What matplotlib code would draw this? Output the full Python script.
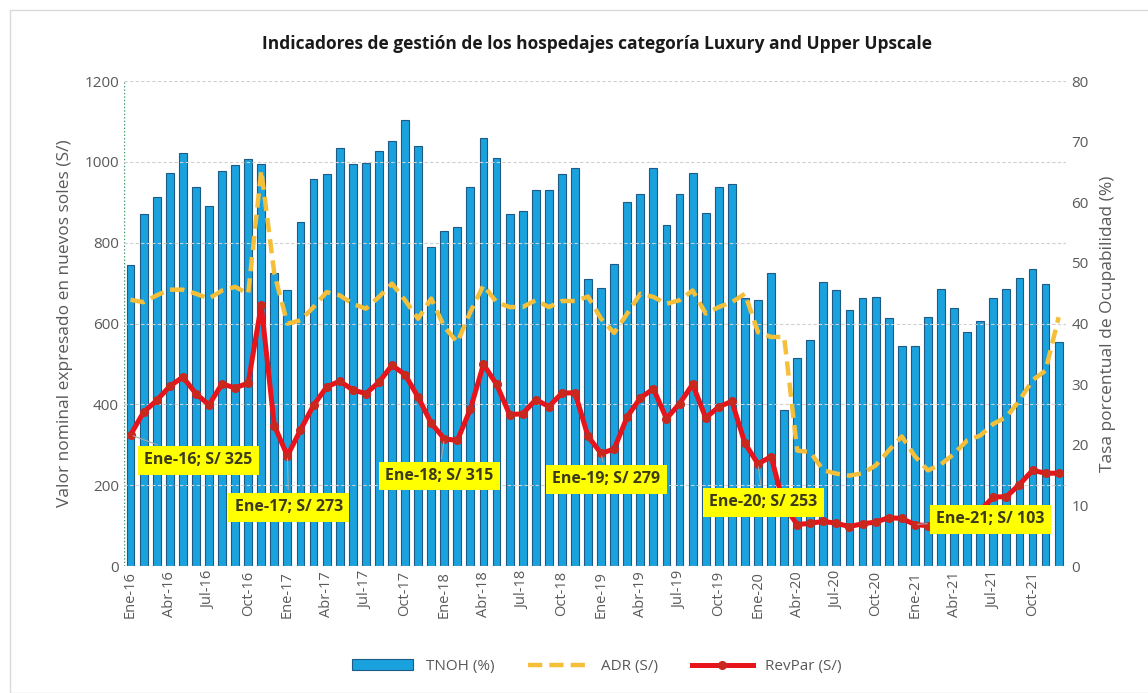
import numpy as np
import matplotlib
matplotlib.use("Agg")
import matplotlib.pyplot as plt
from matplotlib.patches import Rectangle

# meses Ene-16 .. Dic-21
meses = ["Ene", "Feb", "Mar", "Abr", "May", "Jun", "Jul", "Ago", "Sep", "Oct", "Nov", "Dic"]
anios = ["16", "17", "18", "19", "20", "21"]
periodos = [m + "-" + a for a in anios for m in meses]

# tasa de ocupabilidad (%)
tnoh = [49.6, 58.0, 60.9, 64.9, 68.1, 62.5, 59.4, 65.1, 66.1, 67.1, 66.3, 48.3,
        45.5, 56.7, 63.9, 64.6, 68.9, 66.3, 66.5, 68.4, 70.1, 73.5, 69.3, 52.7,
        55.3, 55.9, 62.5, 70.6, 67.3, 58.1, 58.6, 62.1, 62.1, 64.6, 65.7, 47.3,
        45.9, 49.9, 60.1, 61.3, 65.7, 56.3, 61.3, 64.9, 58.3, 62.5, 63.1, 44.2,
        43.9, 48.4, 25.7, 34.4, 37.3, 46.9, 45.5, 42.3, 44.2, 44.4, 40.9, 36.3,
        36.3, 41.1, 45.7, 42.5, 38.7, 40.5, 44.2, 45.7, 47.5, 49.0, 46.5, 36.9]

# ADR (S/)
adr = [659, 653, 670, 684, 684, 674, 662, 682, 691, 674, 979, 724,
       600, 608, 641, 678, 670, 649, 637, 666, 699, 658, 612, 662,
       592, 554, 629, 695, 653, 641, 641, 658, 641, 656, 656, 667,
       612, 577, 625, 674, 666, 649, 658, 682, 625, 641, 653, 674,
       579, 567, 567, 286, 282, 237, 229, 224, 230, 249, 286, 321,
       272, 237, 252, 278, 311, 323, 352, 369, 410, 460, 484, 616]

# RevPar (S/)
revpar = [325, 381, 410, 445, 468, 427, 399, 451, 441, 453, 645, 348,
          273, 337, 398, 443, 458, 436, 427, 455, 497, 474, 418, 354,
          315, 311, 389, 499, 450, 375, 377, 412, 395, 428, 429, 321,
          279, 290, 370, 416, 439, 365, 402, 450, 367, 394, 408, 304,
          253, 271, 150, 103, 106, 111, 106, 98, 105, 109, 120, 118,
          103, 100, 112, 118, 120, 138, 171, 172, 202, 237, 230, 230]

# etiquetas de enero: (indice, texto, posicion de la caja x, y)
etiquetas = [(0, "Ene-16; S/ 325", 5.2, 262),
             (12, "Ene-17; S/ 273", 12.1, 146),
             (24, "Ene-18; S/ 315", 23.6, 223),
             (36, "Ene-19; S/ 279", 36.4, 215),
             (48, "Ene-20; S/ 253", 48.4, 158),
             (60, "Ene-21; S/ 103", 65.8, 116)]

plt.rcParams['font.family'] = ['Open Sans', 'DejaVu Sans']

fig = plt.figure(figsize=(11.48, 6.93), dpi=100)
fig.patches.append(Rectangle((0.009, 0.0), 0.995, 0.985, transform=fig.transFigure,
                             fill=False, edgecolor="#d9d9d9", lw=1.0))
ax = fig.add_axes([0.108, 0.183, 0.821, 0.700])
ax2 = ax.twinx()

x = np.arange(len(periodos))

# barras en el eje derecho, lineas en el izquierdo
ax2.bar(x, tnoh, width=0.6, color="#1aa2de", edgecolor="#1f5a85", linewidth=0.8,
        label="TNOH (%)", zorder=1)
ax2.set_ylim(0, 80)
ax2.set_yticks(range(0, 81, 10))

ax.set_zorder(ax2.get_zorder() + 1)
ax.patch.set_visible(False)
ax.plot(x, adr, color="#f5bf3a", lw=3.2, ls=(0, (3.2, 1.6)), label="ADR (S/)", zorder=3)
ax.plot(x, revpar, color="#e8141c", lw=3.6, marker="o", markersize=5.5,
        markerfacecolor="#c8281e", markeredgecolor="#c8281e", label="RevPar (S/)", zorder=4)
ax.set_ylim(0, 1200)
ax.set_yticks(range(0, 1201, 200))
ax.set_xlim(-0.5, 71.6)

for i, txt, tx, ty in etiquetas:
    ax.annotate(txt, xy=(x[i], revpar[i]), xytext=(tx, ty), ha="center", va="center",
                fontsize=11.5, fontweight="bold", color="#3b3b1a",
                bbox=dict(boxstyle="square,pad=0.4", fc="#ffff00", ec="none"),
                arrowprops=dict(arrowstyle="-", color="#a6a6a6", lw=0.8), zorder=6)

ax.grid(axis="y", color="#d0d0d0", ls=(0, (3, 2)), lw=0.8)
ax.set_axisbelow(False)
ax2.grid(False)
for a in (ax, ax2):
    for s in a.spines.values():
        s.set_visible(False)
    a.tick_params(length=0, colors="#595959", labelsize=11)
ax.axvline(-0.5, color="#3a9a6a", ls=(0, (1, 1.5)), lw=1.0)
ax.axhline(0, color="#d0d0d0", lw=0.8)

ax.set_xticks(x[::3])
ax.set_xticklabels(periodos[::3], rotation=90, fontsize=10.5, color="#595959")
ax.set_ylabel("Valor nominal expresado en nuevos soles (S/)", fontsize=12.5, color="#595959", labelpad=8)
ax2.set_ylabel("Tasa porcentual de Ocupabilidad (%)", fontsize=12.5, color="#595959", labelpad=8)

fig.suptitle("Indicadores de gestión de los hospedajes categoría Luxury and Upper Upscale",
             x=0.52, y=0.95, fontsize=12.5, fontweight="bold", color="#1a1a1a")

h1, l1 = ax2.get_legend_handles_labels()
h2, l2 = ax.get_legend_handles_labels()
fig.legend(h1 + h2, l1 + l2, loc="center", bbox_to_anchor=(0.52, 0.038), ncol=3,
           frameon=False, fontsize=11, handlelength=4, columnspacing=2.2,
           labelcolor="#595959")

fig.savefig("out.png", dpi=100)
